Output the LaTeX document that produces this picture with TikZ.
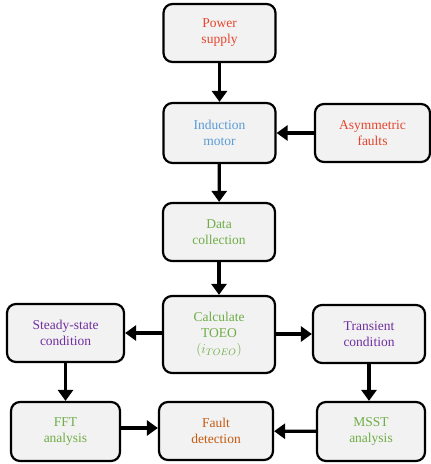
\RequirePackage{fix-cm}
\documentclass[tikz,border=0pt]{standalone}
\usepackage{amsmath, amssymb}
\usepackage{xcolor}
\usepackage{fontspec}
\setmainfont{Liberation Serif}
\usepackage{tikz}
\usetikzlibrary{arrows.meta}

\definecolor{boxfill}{HTML}{F2F2F2}
\definecolor{redtxt}{HTML}{E8442C}
\definecolor{bluetxt}{HTML}{5B9BD5}
\definecolor{greentxt}{HTML}{70AD47}
\definecolor{purpletxt}{HTML}{7030A0}
\definecolor{orangetxt}{HTML}{C55A11}

\tikzset{
    block/.style={draw=black, line width=2.2pt, fill=boxfill, rounded corners=9pt,
        minimum width=112pt, minimum height=58pt, align=center,
        font=\fontsize{13.5}{16}\selectfont},
    flow/.style={line width=3.2pt, -{Triangle[length=11pt,width=15pt]}}
}

\begin{document}
\begin{tikzpicture}[x=1pt, y=-1pt]
        \useasboundingbox (0,0) rectangle (431,464);

        \node[block, text=redtxt] (power) at (219.5, 33) {Power\\supply};
        \node[block, text=bluetxt, minimum height=60pt] (motor) at (219.5, 133) {Induction\\motor};
        \node[block, text=redtxt, minimum width=115pt] (faults) at (372.5, 133) {Asymmetric\\faults};
        \node[block, text=greentxt] (data) at (219, 232) {Data\\collection};
        \node[block, text=greentxt, minimum height=77pt] (toeo) at (219, 334.5) {Calculate\\TOEO\\$(i_{TOEO})$};

        \node[block, text=purpletxt, minimum width=117pt] (steady) at (65.5, 333) {Steady-state\\condition};
        \node[block, text=purpletxt] (trans) at (369, 334) {Transient\\condition};

        \node[block, text=greentxt, minimum width=109pt, minimum height=59pt] (fft) at (65.5, 431.5) {FFT\\analysis};
        \node[block, text=orangetxt, minimum width=114pt] (detect) at (216, 431) {Fault\\detection};
        \node[block, text=greentxt, minimum width=108pt, minimum height=59pt] (msst) at (371, 431.5) {MSST\\analysis};

        % main chain
        \draw[flow] (power) -- (motor);
        \draw[flow] (faults) -- (motor);
        \draw[flow] (motor) -- (data);
        \draw[flow] (data) -- (toeo);

        % branches
        \draw[flow] (toeo.west |- steady) -- (steady);
        \draw[flow] (toeo.east |- trans) -- (trans);
        \draw[flow] (steady) -- (fft);
        \draw[flow] (trans.south) -- (trans.south |- msst.north);
        \draw[flow] (fft.east |- 0,428) -- (detect.west |- 0,428);
        \draw[flow] (msst) -- (detect);
    \end{tikzpicture}
\end{document}
